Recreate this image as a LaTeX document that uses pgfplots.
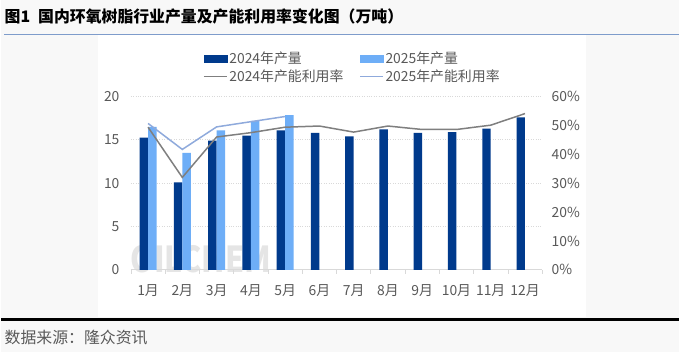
\documentclass[border=0pt]{standalone}
\usepackage{fontspec}
\setmainfont{Noto Sans CJK SC}
\usepackage{pgfplots}
\pgfplotsset{compat=1.18}
\definecolor{bg}{HTML}{F8F8F8}
\definecolor{cA}{HTML}{003A8C}
\definecolor{cB}{HTML}{6EAEF7}
\definecolor{lA}{HTML}{7F7F7F}
\definecolor{lB}{HTML}{8FAADC}
\definecolor{tick}{HTML}{595959}
\definecolor{gridc}{HTML}{D9D9D9}
\definecolor{topline}{HTML}{7E9CCB}
\newcommand{\f}{\fontsize{14}{16}\selectfont}
\begin{document}
\begin{tikzpicture}[x=1bp,y=1bp]
\fill[bg] (0,0) rectangle (680,354);
\fill[white] (97,36) rectangle (587,319);
\draw[topline,line width=1.5bp] (3,319.5) -- (680,319.5);
\draw[black,line width=3bp] (0,33) -- (680,33);
\node[anchor=west,inner sep=0pt,font=\bfseries\fontsize{16}{18}\selectfont] at (3,337) {图1\hspace{0.5em}国内环氧树脂行业产量及产能利用率变化图（万吨）};
\node[anchor=west,inner sep=0pt,text=tick,font=\fontsize{16}{18}\selectfont] at (3,15) {数据来源：隆众资讯};
\node[anchor=base,inner sep=0pt,text=gray!20,font=\bfseries\fontsize{36}{38}\selectfont,xscale=0.85] at (200,80) {OILCHEM};
\begin{axis}[
  at={(130bp,83bp)}, anchor=south west, scale only axis,
  width=413bp, height=174bp,
  xmin=-0.5, xmax=11.5, ymin=0, ymax=20,
  ybar=0pt, bar width=8.5bp,
  axis y line*=left, axis x line*=bottom,
  y axis line style={draw=none},
  x axis line style={draw=gridc,line width=0.8bp},
  xtick={0,...,11},
  xticklabels={1月,2月,3月,4月,5月,6月,7月,8月,9月,10月,11月,12月},
  major tick length=0pt,
  extra x ticks={-0.5,0.5,...,11.5},
  extra x tick labels={},
  extra x tick style={major tick length=4bp, tick style={draw=gridc,line width=0.6bp}, tick align=outside, grid=none},
  ytick={0,5,10,15,20},
  ymajorgrids, grid style={gridc,dotted,line width=0.8bp},
  tick label style={text=tick,font=\f},
  xticklabel style={yshift=-11bp},
  yticklabel style={xshift=-8bp},
  /pgf/number format/assume math mode=true,
  clip=false,
]
\addplot[fill=cA,draw=none] coordinates {(0,15.25) (1,10.1) (2,14.9) (3,15.5) (4,16.1) (5,15.8) (6,15.4) (7,16.2) (8,15.8) (9,15.9) (10,16.3) (11,17.6)};
\addplot[fill=cB,draw=none] coordinates {(0,16.5) (1,13.5) (2,16.1) (3,17.2) (4,17.85)};
\end{axis}
\begin{axis}[
  at={(130bp,83bp)}, anchor=south west, scale only axis,
  width=413bp, height=174bp,
  xmin=-0.5, xmax=11.5, ymin=0, ymax=60,
  axis y line*=right, axis x line=none,
  y axis line style={draw=none},
  major tick length=0pt,
  ytick={0,10,...,60},
  yticklabel={\pgfmathprintnumber{\tick}\%},
  tick label style={text=tick,font=\f},
  yticklabel style={xshift=6bp},
  /pgf/number format/assume math mode=true,
  legend columns=2,
  legend cell align=left,
  legend style={draw=none,fill=none,font=\f,text=tick,
    at={(axis description cs:0.5,1)},anchor=south,xshift=16bp,yshift=10bp,
    row sep=3bp,
    /tikz/every even column/.append style={column sep=14bp},
    nodes={inner xsep=2bp,inner ysep=1bp}},
  clip=false,
]
\addlegendimage{legend image code/.code={\fill[cA] (0bp,-3.5bp) rectangle (23bp,3.5bp);}}
\addlegendentry{2024年产量}
\addlegendimage{legend image code/.code={\fill[cB] (0bp,-3.5bp) rectangle (23bp,3.5bp);}}
\addlegendentry{2025年产量}
\addplot[lA,line width=1.5bp,mark=none,legend image code/.code={\draw[lA,line width=1.2bp] (0bp,0bp) -- (23bp,0bp);}] coordinates {(0,49.4) (1,32) (2,46) (3,47.5) (4,49.4) (5,49.8) (6,47.7) (7,49.8) (8,48.6) (9,48.6) (10,50.1) (11,54.1)};
\addlegendentry{2024年产能利用率}
\addplot[lB,line width=1.5bp,mark=none,legend image code/.code={\draw[lB,line width=1.2bp] (0bp,0bp) -- (23bp,0bp);}] coordinates {(0,50.7) (1,41.7) (2,49.5) (3,51.3) (4,53.1)};
\addlegendentry{2025年产能利用率}
\end{axis}
\end{tikzpicture}
\end{document}
